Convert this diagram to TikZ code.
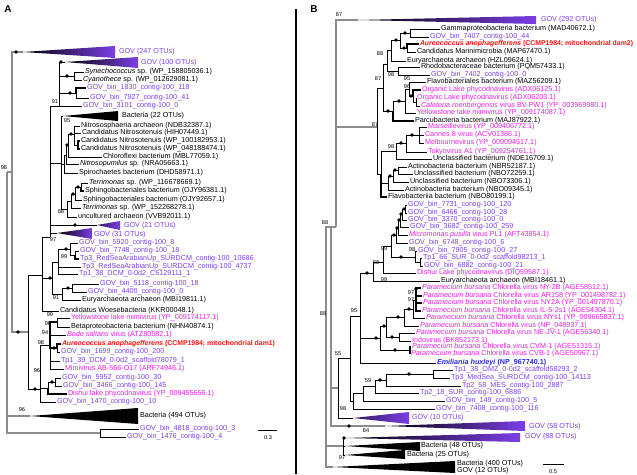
\documentclass[tikz,border=0pt]{standalone}
\usepackage{fontspec}
\setmainfont{Liberation Sans}
\usetikzlibrary{positioning}
\definecolor{GOV_Purple}{HTML}{7B3FE6}
\definecolor{Virus_Magenta}{HTML}{E41FDC}
\definecolor{Aureo_Red}{HTML}{FF1010}
\definecolor{Emil_Blue}{HTML}{2A2AD6}
\newcommand{\lblsize}{\fontsize{7.2}{8}\selectfont}
\newcommand{\redsize}{\fontsize{6.9}{8}\selectfont}
\newcommand{\bssize}{\fontsize{5.6}{6}\selectfont}
\newcommand{\pbcv}{\textit{Paramecium bursaria} Chlorella virus}

\tikzset{
  lf/.style={anchor=west, inner sep=0.8pt, font=\lblsize},
  govlf/.style={lf, text=GOV_Purple},
  virlf/.style={lf, text=Virus_Magenta},
  redlf/.style={lf, text=Aureo_Red, font=\redsize\bfseries},
  bsv/.style={inner sep=0pt, font=\bssize},
  br/.style={line width=0.7pt},
  thk/.style={line width=1.6pt},
  bone/.style={line width=1.3pt, black!45},
}

\begin{document}
\begin{tikzpicture}[x=1pt, y=-1pt]
  \useasboundingbox (0,0) rectangle (637,474);

  % Panel letters and divider
  \node[font=\fontsize{10}{10}\selectfont\bfseries] (pA) at (8,9) {A};
  \node[font=\fontsize{10}{10}\selectfont\bfseries] (pB) at (314,9) {B};
  \draw[line width=1.3pt] (296,9) -- (296,474);

  % ---------------- Panel A: inner nodes ----------------
  \coordinate (ar) at (7,172);
  \coordinate (a98) at (12,172);
  \coordinate (a28) at (28,332);
  \coordinate (aw) at (42,275);
  \coordinate (a50) at (50,237);
  \coordinate (ag) at (59,106);
  \coordinate (asy) at (74,76);
  \coordinate (abn) at (76,93);
  \coordinate (ans) at (61,163);
  \coordinate (ane) at (64,164);
  \coordinate (and) at (66,155);
  \coordinate (anc) at (68,145);
  \coordinate (anb) at (74,134);
  \coordinate (ana) at (78,145);
  \coordinate (asd) at (67,209);
  \coordinate (asc) at (71,201);
  \coordinate (asb) at (75,194);
  \coordinate (asa) at (81,187);
  \coordinate (ae) at (52,278);
  \coordinate (at) at (58,262);
  \coordinate (at1) at (70,249);
  \coordinate (at2) at (75,255);
  \coordinate (af) at (62,294);
  \coordinate (af1) at (72,288);
  \coordinate (al) at (40,389);
  \coordinate (am1) at (50,345);
  \coordinate (ay) at (57,322);
  \coordinate (aaa) at (57,348);
  \coordinate (am2) at (48,388);
  \coordinate (app) at (55,382);
  \coordinate (aap) at (100,433);
  % collapsed clades (apex)
  \coordinate (tA247) at (23,52);
  \coordinate (tA100) at (65,62);
  \coordinate (tA22) at (63,116);
  \coordinate (tA21) at (97,225);
  \coordinate (tA31) at (57,233);
  \coordinate (tA494) at (30,416);

  % ---------------- Panel A: leaves ----------------
  \node[lf] (la1) at (84,72) {\textit{Synechococcus} sp. (WP\_158805036.1)};
  \node[lf] (la2) at (82,80) {\textit{Cyanothece} sp. (WP\_012629081.1)};
  \node[govlf] (la3) at (86,88) {GOV\_bin\_1830\_contig-100\_118};
  \node[govlf] (la4) at (89,98) {GOV\_bin\_7927\_contig-100\_41};
  \node[govlf] (la5) at (82,106) {GOV\_bin\_3101\_contig-100\_0};
  \node[lf] (la6) at (80,126) {Nitrososphaeria archaeon (NDB32387.1)};
  \node[lf] (la7) at (81,133) {Candidatus Nitrosotenuis (HIH07449.1)};
  \node[lf] (la8) at (80,141) {Candidatus Nitrosotenuis (WP\_100182953.1)};
  \node[lf] (la9) at (80,149) {Candidatus Nitrosotenuis (WP\_048188474.1)};
  \node[lf] (la10) at (102,157) {Chloroflexi bacterium (MBL77059.1)};
  \node[lf] (la11) at (79,164) {\textit{Nitrosopumilus} sp. (NRA05663.1)};
  \node[lf] (la12) at (78,173) {Spirochaetes bacterium (DHD58971.1)};
  \node[lf] (la13) at (88,183) {\textit{Terrimonas} sp. (WP\_116678669.1)};
  \node[lf] (la14) at (84,191) {Sphingobacteriales bacterium (OJY96381.1)};
  \node[lf] (la15) at (82,200) {Sphingobacteriales bacterium (OJY92657.1)};
  \node[lf] (la16) at (81,208) {\textit{Terrimonas} sp. (WP\_152268278.1)};
  \node[lf] (la17) at (77,217) {uncultured archaeon (VVB92011.1)};
  \node[govlf] (la18) at (78,243) {GOV\_bin\_5920\_contig-100\_8};
  \node[govlf] (la19) at (79,251) {GOV\_bin\_7748\_contig-100\_18};
  \node[govlf] (la20) at (79,259) {Tp3\_RedSeaArabianUp\_SURDCM\_contig-100\_10686};
  \node[govlf] (la21) at (81,267) {Tp3\_RedSeaArabianUp\_SURDCM\_contig-100\_4737};
  \node[govlf] (la22) at (78,274) {Tp1\_38\_DCM\_0-0d2\_C5129111\_1};
  \node[govlf] (la23) at (99,284) {GOV\_bin\_5118\_contig-100\_18};
  \node[govlf] (la24) at (87,292) {GOV\_bin\_4400\_contig-100\_0};
  \node[lf] (la25) at (81,300) {Euryarchaeota archaeon (MBI19811.1)};
  \node[lf] (la26) at (59,311) {Candidatus Woesebacteria (KKR00048.1)};
  \node[virlf] (la27) at (70,318) {Yellowstone lake mimivirus (YP\_009174117.1)};
  \node[lf] (la28) at (70,327) {Betaproteobacteria bacterium (NHN40874.1)};
  \node[virlf] (la29) at (66,335) {\textit{Bodo saltans} virus (ATZ80582.1)};
  \node[redlf] (la30) at (61,344) {\textit{Aureococcus anophagefferens} (CCMP1984; mitochondrial dam1)};
  \node[govlf] (la31) at (60,352) {GOV\_bin\_1699\_contig-100\_200};
  \node[govlf] (la32) at (60,361) {Tp1\_39\_DCM\_0-0d2\_scaffold78079\_1};
  \node[virlf] (la33) at (64,369) {Mimivirus AB-566-O17 (ARF74946.1)};
  \node[govlf] (la34) at (61,378) {GOV\_bin\_5952\_contig-100\_30};
  \node[govlf] (la35) at (62,386) {GOV\_bin\_3466\_contig-100\_145};
  \node[virlf] (la36) at (67,394) {Dishui lake phycodnavirus (YP\_009455656.1)};
  \node[govlf] (la37) at (56,402) {GOV\_bin\_1470\_contig-100\_10};
  \node[govlf] (la38) at (139,429) {GOV\_bin\_4818\_contig-100\_3};
  \node[govlf] (la39) at (126,437) {GOV\_bin\_1476\_contig-100\_4};
  % collapsed clade labels
  \node[govlf] (ca1) at (118,52) {GOV (247 OTUs)};
  \node[govlf] (ca2) at (140,63) {GOV (100 OTUs)};
  \node[lf] (ca3) at (121,116) {Bacteria (22 OTUs)};
  \node[govlf] (ca4) at (123,226) {GOV (21 OTUs)};
  \node[govlf] (ca5) at (93,235) {GOV (31 OTUs)};
  \node[lf] (ca6) at (139,416) {Bacteria (494 OTUs)};

  % collapsed clades
  \shade[left color=black, right color=GOV_Purple] (tA247) -- (115,46) -- (115,58) -- cycle;
  \shade[left color=black, right color=GOV_Purple] (tA100) -- (138,57) -- (138,68) -- cycle;
  \fill[black] (tA22) -- (118,111) -- (118,121) -- cycle;
  \shade[left color=black!60!GOV_Purple, right color=GOV_Purple] (tA21) -- (120,221) -- (120,230) -- cycle;
  \shade[left color=black, right color=GOV_Purple] (tA31) -- (92,228) -- (92,239) -- cycle;
  \fill[black] (tA494) -- (138,408) -- (138,424) -- cycle;

  % branches
  \foreach \p/\c in {ar/a98, ar/tA494, ar/aap, a98/tA247, a98/a28}
    \draw[bone] (\p) |- (\c);
  \foreach \p/\c in {a28/aw, a28/al, aw/a50, aw/ae, aw/la26,
      a50/ag, a50/ans, a50/tA21, a50/tA31,
      ag/tA100, ag/asy, ag/abn, ag/la5, asy/la1, asy/la2, abn/la4,
      ans/tA22, ans/ane, ans/asd, ane/and, ane/la12, and/anc, and/la11,
      anc/anb, anc/la10, anb/la6, anb/la7, anb/ana,
      asd/asc, asd/la17, asc/asb, asc/la16, asb/asa, asb/la15, asa/la13,
      ae/at, ae/af, at/at1, at/la21, at/la22, at1/la18, at1/at2, at2/la19,
      af/af1, af/la25, af1/la23, af1/la24,
      al/am1, al/am2, al/la37, am1/la29, am1/la32, am1/la33,
      ay/la27, ay/la28, aaa/la31, am2/app, app/la34, app/la35,
      aap/la38, aap/la39}
    \draw[br] (\p) |- (\c);
  \foreach \p/\c in {abn/la3, ana/la8, ana/la9, asa/la14, at2/la20,
      am1/ay, am1/aaa, aaa/la30, am2/la36}
    \draw[thk] (\p) |- (\c);

  % node dots
  \foreach \x/\y in {16/52, 61/62, 67/76, 70/93, 71/134, 67/145, 78/187, 73/194,
      75/225, 18/332, 50/278, 66/249, 68/288, 54/348, 52/382, 35/389}
    \fill (\x,\y) circle (1.8pt);

  % support values
  \foreach \x/\y/\t [count=\i] in {4/168/98, 55/102/91, 67/121/95, 61/212/88,
      53/240/97, 64/257/99, 56/298/91, 50/315/99, 48/324/96, 45/333/94,
      41/343/98, 37/371/96, 22/410/96}
    \node[bsv] (sa\i) at (\x,\y) {\t};

  % scale bar
  \draw[line width=1pt] (258,430) -- (277,430);
  \node[bsv] (sca) at (268,438) {0.3};

  % ---------------- Panel B: inner nodes ----------------
  \coordinate (mb0) at (326,317);
  \coordinate (mb1) at (331,227);
  \coordinate (mb2) at (336,227);
  \coordinate (mw) at (377,127);
  \coordinate (mv2) at (383,88);
  \coordinate (mv1) at (387,64);
  \coordinate (mu1) at (391,50);
  \coordinate (mg) at (400,40);
  \coordinate (mgam) at (410,33);
  \coordinate (mam) at (407,48);
  \coordinate (mrh) at (398,71);
  \coordinate (mf4) at (393,111);
  \coordinate (mf3) at (405,101);
  \coordinate (mf2) at (409,89);
  \coordinate (mf1) at (413,96);
  \coordinate (mf1a) at (416,102);
  \coordinate (mcl) at (381,174);
  \coordinate (mm3) at (396,151);
  \coordinate (mm2) at (406,143);
  \coordinate (mm1) at (419,135);
  \coordinate (ma3) at (388,183);
  \coordinate (ma2) at (393,176);
  \coordinate (ma1) at (398,170);
  \coordinate (ms) at (338,388);
  \coordinate (mqp) at (350,358);
  \coordinate (mq) at (360,316);
  \coordinate (mk8) at (373,273);
  \coordinate (mk7) at (383,262);
  \coordinate (mk6) at (391,246);
  \coordinate (mk5) at (396,235);
  \coordinate (mk4) at (398,228);
  \coordinate (mk3) at (400,220);
  \coordinate (mk2) at (402,214);
  \coordinate (mk1) at (405,209);
  \coordinate (mt2) at (415,257);
  \coordinate (mt1) at (420,262);
  \coordinate (mc7) at (380,338);
  \coordinate (mc5) at (386,326);
  \coordinate (mc3) at (404,317);
  \coordinate (mc2) at (413,309);
  \coordinate (mc1) at (416,300);
  \coordinate (mc4) at (399,337);
  \coordinate (mc6) at (410,350);
  \coordinate (mp5) at (353,401);
  \coordinate (mp4) at (363,393);
  \coordinate (mp3) at (375,386);
  \coordinate (mp2) at (386,380);
  \coordinate (mp1) at (433,374);
  \coordinate (mbg) at (343,446);
  % collapsed clades (apex)
  \coordinate (tB292) at (358,20);
  \coordinate (tB10) at (353,418);
  \coordinate (tB58) at (385,426);
  \coordinate (tB88) at (345,438);
  \coordinate (tB48) at (345,446);
  \coordinate (tB25) at (345,455);
  \coordinate (tB400) at (333,467);

  % ---------------- Panel B: leaves ----------------
  \node[lf] (lb1) at (440,29) {Gammaproteobacteria bacterium (MAD40672.1)};
  \node[govlf] (lb2) at (429,37) {GOV\_bin\_7407\_contig-100\_44};
  \node[redlf] (lb3) at (419,44) {\textit{Aureococcus anophagefferens} (CCMP1984; mitochondrial dam2)};
  \node[lf] (lb4) at (416,52) {Candidatus Marinimicrobia (MAP67470.1)};
  \node[lf] (lb5) at (406,61) {Euryarchaeota archaeon (HZL09624.1)};
  \node[lf] (lb6) at (420,67) {Rhodobacteraceae bacterium (PQM57433.1)};
  \node[govlf] (lb7) at (430,75) {GOV\_bin\_7402\_contig-100\_0};
  \node[lf] (lb8) at (426,82) {Flavobacteriales bacterium (MAZ56209.1)};
  \node[virlf] (lb9) at (421,90) {Organic Lake phycodnavirus (ADX06125.1)};
  \node[virlf] (lb10) at (416,98) {Organic Lake phycodnavirus (ADX06203.1)};
  \node[virlf] (lb11) at (420,106) {\textit{Cafeteria roenbergensis} virus BV-PW1 (YP\_003969980.1)};
  \node[virlf] (lb12) at (416,113) {Yellowstone lake mimivirus (YP\_009174087.1)};
  \node[lf] (lb13) at (414,121) {Parcubacteria bacterium (MAJ87922.1)};
  \node[virlf] (lb14) at (427,127) {Marseillevirus (YP\_009406772.1)};
  \node[virlf] (lb15) at (424,135) {Cannes 8 virus (ACV01386.1)};
  \node[virlf] (lb16) at (424,143) {Melbournevirus (YP\_009094517.1)};
  \node[virlf] (lb17) at (427,152) {Tokyovirus A1 (YP\_009254761.1)};
  \node[lf] (lb18) at (432,159) {Unclassified bacterium (NDE16709.1)};
  \node[lf] (lb19) at (407,167) {Actinobacteria bacterium (NBR52187.1)};
  \node[lf] (lb20) at (413,174) {Unclassified bacterium (NBO72259.1)};
  \node[lf] (lb21) at (409,182) {Unclassified bacterium (NBO73306.1)};
  \node[lf] (lb22) at (404,190) {Actinobacteria bacterium (NBO09345.1)};
  \node[lf] (lb23) at (387,197) {Flavobacteriia bacterium (NBO80199.1)};
  \node[govlf] (lb24) at (407,205) {GOV\_bin\_7731\_contig-100\_120};
  \node[govlf] (lb25) at (407,213) {GOV\_bin\_6466\_contig-100\_28};
  \node[govlf] (lb26) at (407,220) {GOV\_bin\_3370\_contig-100\_0};
  \node[govlf] (lb27) at (409,227) {GOV\_bin\_3682\_contig-100\_259};
  \node[virlf] (lb28) at (408,235) {\textit{Micromonas pusilla} virus PL1 (AFT43854.1)};
  \node[govlf] (lb29) at (408,243) {GOV\_bin\_6748\_contig-100\_6};
  \node[govlf] (lb30) at (417,251) {GOV\_bin\_7905\_contig-100\_27};
  \node[govlf] (lb31) at (422,258) {Tp1\_66\_SUR\_0-0d2\_scaffold98213\_1};
  \node[govlf] (lb32) at (423,266) {GOV\_bin\_6882\_contig-100\_21};
  \node[virlf] (lb33) at (416,273) {Dishui Lake phycodnavirus (DIQ59587.1)};
  \node[lf] (lb34) at (440,281) {Euryarchaeota archaeon (MBI18461.1)};
  \node[virlf] (lb35) at (421,288) {\pbcv{} NY-2B (AGE58512.1)};
  \node[virlf] (lb36) at (422,296) {\pbcv{} AR158 (YP\_001498782.1)};
  \node[virlf] (lb37) at (422,303) {\pbcv{} NY2A (YP\_001497870.1)};
  \node[virlf] (lb38) at (421,311) {\pbcv{} IL-5-2s1 (AGE54304.1)};
  \node[virlf] (lb39) at (425,318) {\pbcv{} NYs1 (YP\_009665837.1)};
  \node[virlf] (lb40) at (419,326) {\pbcv{} (NP\_048937.1)};
  \node[virlf] (lb41) at (415,333) {\pbcv{} NE-JV-1 (AGE56340.1)};
  \node[virlf] (lb42) at (411,341) {Iridovirus (BK852173.1)};
  \node[virlf] (lb43) at (411,347) {\pbcv{} CVM-1 (AGE51315.1)};
  \node[virlf] (lb44) at (410,354) {\pbcv{} CVB-1 (AGE50967.1)};
  \node[lf, text=Emil_Blue, font=\lblsize\bfseries] (lb45) at (436,363) {\textit{Emiliania huxleyi} (NP\_967740.1)};
  \node[govlf] (lb46) at (453,370) {Tp1\_38\_OMZ\_0-0d2\_scaffold58293\_2};
  \node[govlf] (lb47) at (450,378) {Tp3\_MedSea\_SURDCM\_contig-100\_14113};
  \node[govlf] (lb48) at (461,386) {Tp2\_58\_MES\_contig-100\_2887};
  \node[govlf] (lb49) at (419,393) {Tp2\_18\_SUR\_contig-100\_6886};
  \node[govlf] (lb50) at (445,401) {GOV\_bin\_149\_contig-100\_5};
  \node[govlf] (lb51) at (435,409) {GOV\_bin\_7408\_contig-100\_116};
  % collapsed clade labels
  \node[govlf] (cb1) at (540,20) {GOV (292 OTUs)};
  \node[govlf] (cb2) at (411,418) {GOV (10 OTUs)};
  \node[govlf] (cb3) at (528,427) {GOV (58 OTUs)};
  \node[govlf] (cb4) at (524,437) {GOV (88 OTUs)};
  \node[lf] (cb5) at (420,446) {Bacteria (48 OTUs)};
  \node[lf] (cb6) at (406,455) {Bacteria (25 OTUs)};
  \node[lf] (cb7) at (456,464) {Bacteria (400 OTUs)};
  \node[lf] (cb8) at (456,471) {GOV (12 OTUs)};

  % collapsed clades
  \shade[left color=black, right color=GOV_Purple] (tB292) -- (536,16) -- (536,24) -- cycle;
  \shade[left color=black!60!GOV_Purple, right color=GOV_Purple] (tB10) -- (409,412) -- (409,424) -- cycle;
  \shade[left color=black, right color=GOV_Purple] (tB58) -- (525,421) -- (525,431) -- cycle;
  \shade[left color=black, right color=GOV_Purple] (tB88) -- (520,433) -- (520,442) -- cycle;
  \fill[black] (tB48) -- (420,442) -- (420,451) -- cycle;
  \fill[black] (tB25) -- (405,450) -- (405,459) -- cycle;
  \fill[black] (tB400) -- (455,461) -- (455,473) -- cycle;

  % branches
  \foreach \p/\c in {mb0/mb1, mb0/mbg, mb0/tB400, mb1/mb2, mb1/ms, mb1/tB58,
      mb2/tB292, mb2/mw}
    \draw[bone] (\p) |- (\c);
  \foreach \p/\c in {mw/mv2, mw/mcl, mv2/mv1, mv2/mf4, mv1/mu1, mv1/mrh,
      mu1/mg, mu1/lb5, mg/mgam, mg/mam, mgam/lb1, mgam/lb2, mam/lb4,
      mrh/lb6, mrh/lb7, mf4/mf3, mf3/mf2, mf3/lb12, mf2/lb8, mf2/mf1,
      mf1/mf1a, mf1a/lb10, mf1a/lb11,
      mcl/mm3, mcl/ma3, mm3/mm2, mm3/lb18, mm2/mm1, mm2/lb17,
      mm1/lb14, mm1/lb15, mm1/lb16, ma3/ma2, ma3/lb22, ma2/ma1, ma2/lb21,
      ma1/lb19, ma1/lb20,
      ms/mqp, ms/tB10, mqp/mq, mqp/mp5, mq/mk8, mq/mc7, mq/lb45,
      mk8/mk7, mk8/lb34, mk7/mk6, mk7/lb33, mk6/mk5, mk6/mt2,
      mk5/mk4, mk5/lb29, mk4/mk3, mk4/lb28, mk3/mk2, mk3/lb27,
      mk2/mk1, mk2/lb26, mk1/lb24, mk1/lb25,
      mt2/lb30, mt2/mt1, mt1/lb31, mt1/lb32,
      mc7/mc5, mc7/mc6, mc5/mc3, mc5/mc4, mc3/mc2, mc3/lb40,
      mc2/mc1, mc2/lb39, mc4/lb41, mc4/lb42,
      mp5/mp4, mp5/lb51, mp4/mp3, mp4/lb50, mp3/mp2, mp3/lb49,
      mp2/mp1, mp2/lb48, mp1/lb46, mp1/lb47,
      mbg/tB88, mbg/tB48, mbg/tB25}
    \draw[br] (\p) |- (\c);
  \foreach \p/\c in {mam/lb3, mf4/lb13, mf1/lb9, mcl/lb23,
      mc1/lb35, mc1/lb36, mc1/lb37, mc1/lb38, mc6/lb43, mc6/lb44}
    \draw[thk] (\p) |- (\c);

  % node dots
  \foreach \x/\y in {405/33, 404/48, 396/40, 399/101, 388/111, 411/96,
      412/135, 401/143, 395/170, 390/176, 404/209, 401/214, 399/220,
      397/228, 394/235, 401/257, 367/273, 416/289, 409/309, 398/317,
      384/326, 392/337, 395/350, 376/338, 409/374, 380/380, 349/426, 344/438}
    \fill (\x,\y) circle (1.8pt);

  % support values
  \foreach \x/\y/\t [count=\i] in {339/15/87, 380/54/88, 391/75/98, 378/79/87,
      407/79/95, 407/87/96, 375/125/87, 391/147/98, 325/223/88, 384/249/99,
      412/250/98, 376/263/88, 384/280/99, 411/293/97, 411/300/97, 354/311/95,
      323/314/88, 338/354/55, 368/381/59, 343/409/98, 366/431/84, 342/458/97}
    \node[bsv] (sb\i) at (\x,\y) {\t};

  % scale bar
  \draw[line width=1pt] (543,464) -- (564,464);
  \node[bsv] (scb) at (553,472) {0.5};
\end{tikzpicture}
\end{document}
